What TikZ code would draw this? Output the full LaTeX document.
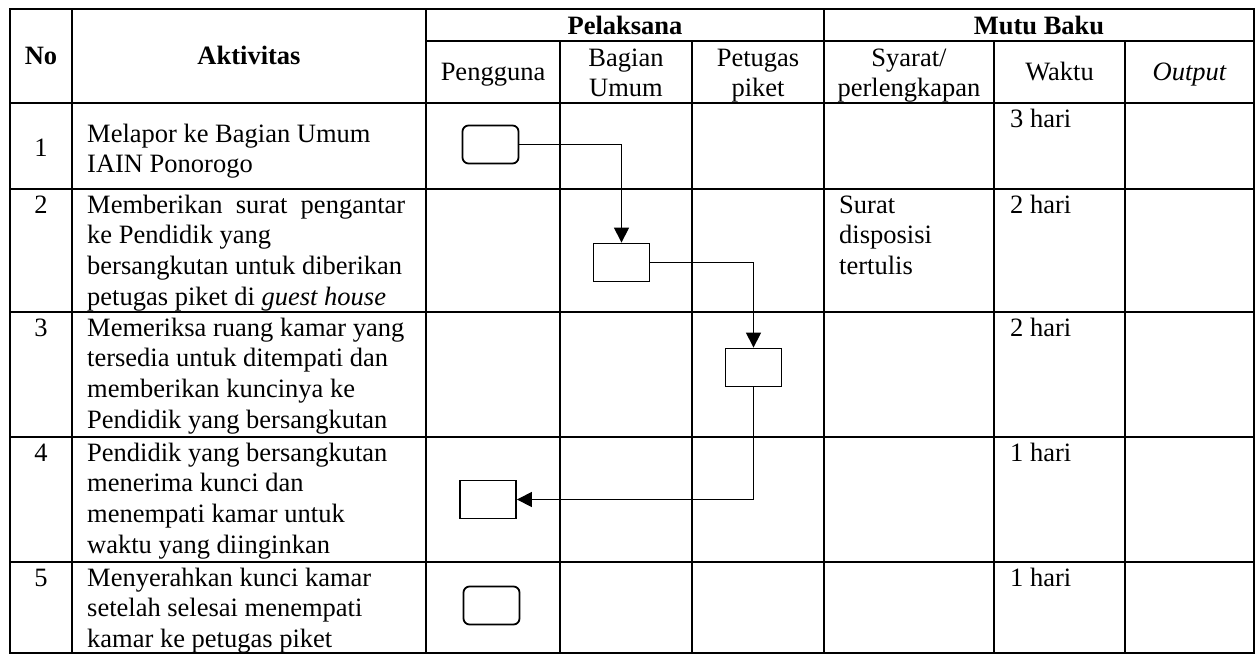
\documentclass[tikz,border=0pt]{standalone}
\usepackage{fontspec}
\setmainfont{Liberation Serif}
\usetikzlibrary{arrows.meta}
\newcommand\myst{\rule{0pt}{24pt}}
\begin{document}
\begin{tikzpicture}[x=1pt,y=-1pt,
  txt/.style={inner sep=0pt, font=\fontsize{26.5}{30.7}\selectfont, align=left, anchor=north west},
  hd/.style={inner sep=0pt, font=\fontsize{26.5}{30.7}\selectfont\bfseries, anchor=base},
  sub/.style={inner sep=0pt, font=\fontsize{26.5}{30.7}\selectfont, align=center},
  grid/.style={line width=1.3pt, line cap=rect},
  proc/.style={draw, line width=1.8pt, minimum width=56pt, minimum height=38pt, inner sep=0pt},
  term/.style={proc, rounded corners=6pt},
  flow/.style={line width=1.2pt, -{Triangle[length=15pt,width=15pt]}}
]
\useasboundingbox (0,0) rectangle (1257,655);
\fill[white] (0,0) rectangle (1257,655);

% table grid
\draw[grid] (10,9) -- (1254,9);
\draw[grid] (426,41) -- (1254,41);
\foreach \yy in {103,189,312,437,562,653} \draw[grid] (10,\yy) -- (1254,\yy);
\foreach \xx in {10,72,426,824,1254} \draw[grid] (\xx,9) -- (\xx,653);
\foreach \xx in {560,692,994,1125} \draw[grid] (\xx,41) -- (\xx,653);

% headers
\node[hd] (hNo) at (41,65) {No};
\node[hd] (hAkt) at (249,65) {Aktivitas};
\node[hd] (hPel) at (625,35) {Pelaksana};
\node[hd] (hMutu) at (1039,35) {Mutu Baku};
\node[sub, anchor=base] (hPeng) at (493,81) {Pengguna};
\node[sub, anchor=north] (hBag) at (626,42) {\myst Bagian\\Umum};
\node[sub, anchor=north] (hPet) at (758,42) {\myst Petugas\\piket};
\node[sub, anchor=north] (hSya) at (909,42) {\myst Syarat/\\perlengkapan};
\node[sub, anchor=base] (hWak) at (1059.5,81) {Waktu};
\node[sub, anchor=base] (hOut) at (1189.5,81) {\itshape Output};

% numbers
\node[txt, anchor=base] (n1) at (41,157) {1};
\node[txt, anchor=base] (n2) at (41,213) {2};
\node[txt, anchor=base] (n3) at (41,336) {3};
\node[txt, anchor=base] (n4) at (41,461) {4};
\node[txt, anchor=base] (n5) at (41,586) {5};

% activities
\node[txt] (a1) at (87,118) {\myst Melapor ke Bagian Umum\\IAIN Ponorogo};
\node[txt] (a2) at (87,189) {\myst\makebox[318pt][s]{Memberikan surat pengantar}\\ke Pendidik yang\\bersangkutan untuk diberikan\\petugas piket di \textit{guest house}};
\node[txt] (a3) at (87,312) {\myst Memeriksa ruang kamar yang\\tersedia untuk ditempati dan\\memberikan kuncinya ke\\Pendidik yang bersangkutan};
\node[txt] (a4) at (87,437) {\myst Pendidik yang bersangkutan\\menerima kunci dan\\menempati kamar untuk\\waktu yang diinginkan};
\node[txt] (a5) at (87,562) {\myst Menyerahkan kunci kamar\\setelah selesai menempati\\kamar ke petugas piket};

% syarat
\node[txt] (s2) at (839,189) {\myst Surat\\disposisi\\tertulis};

% waktu
\node[txt] (w1) at (1010,103) {\myst 3 hari};
\node[txt] (w2) at (1010,189) {\myst 2 hari};
\node[txt] (w3) at (1010,312) {\myst 2 hari};
\node[txt] (w4) at (1010,437) {\myst 1 hari};
\node[txt] (w5) at (1010,562) {\myst 1 hari};

% flow shapes
\node[term] (b1) at (490.5,144.5) {};
\node[proc] (b2) at (621.5,262.5) {};
\node[proc] (b3) at (753.5,367.5) {};
\node[proc] (b4) at (488,499.5) {};
\node[term] (b5) at (491.5,605.5) {};

\draw[flow] (b1.east) -| (b2.north);
\draw[flow] (b2.east) -| (b3.north);
\draw[flow] (b3.south) |- (b4.east);
\end{tikzpicture}
\end{document}
